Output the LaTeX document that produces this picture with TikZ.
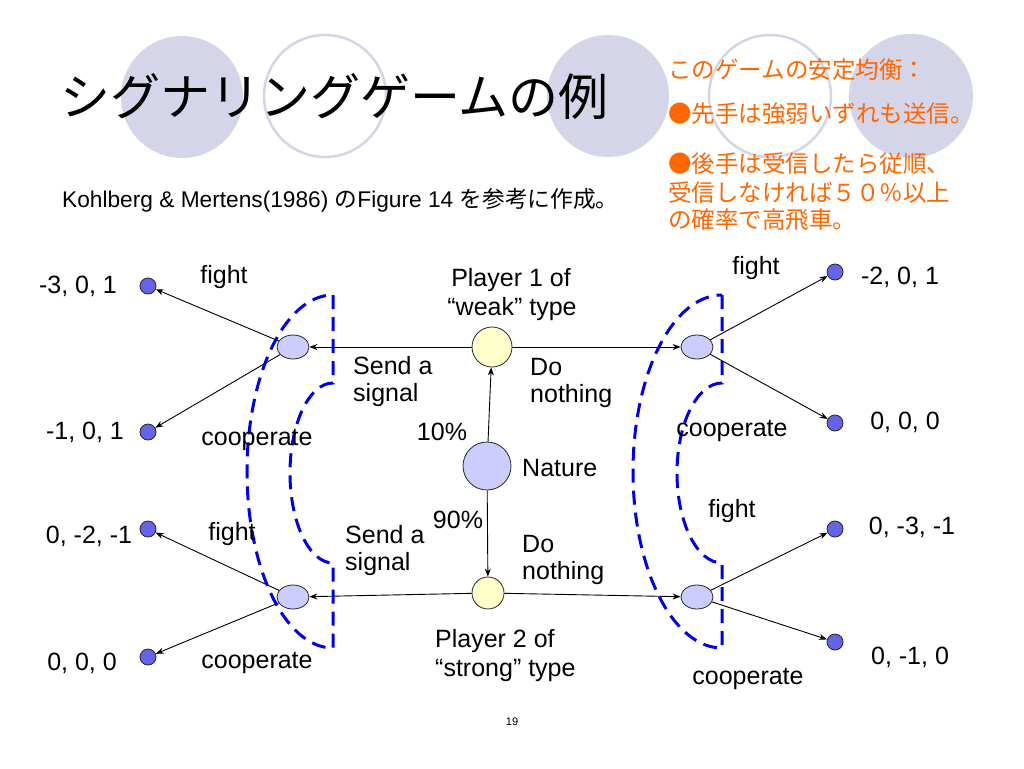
\documentclass[tikz,border=0pt]{standalone}
\usepackage{fontspec}
\setmainfont{Liberation Sans}
\newfontfamily\cjk{Noto Sans CJK JP}
\usetikzlibrary{shapes.geometric,arrows.meta}
\definecolor{bgc}{RGB}{213,213,234}
\definecolor{lav}{RGB}{204,204,255}
\definecolor{yel}{RGB}{255,255,204}
\definecolor{termc}{RGB}{100,100,232}
\definecolor{setblue}{RGB}{0,0,230}
\definecolor{orng}{RGB}{255,102,0}
\begin{document}
\begin{tikzpicture}[x=1pt,y=1pt,
  lbl/.style={font=\fontsize{25}{29}\selectfont, inner sep=0},
  otext/.style={font=\cjk\fontsize{23.5}{28}\selectfont, text=orng, inner sep=0, anchor=west},
  term/.style={circle, fill=termc, draw=black!85, line width=0.8pt, minimum size=16pt, inner sep=0},
  info/.style={ellipse, fill=lav, draw=black!85, line width=0.8pt, minimum width=32pt, minimum height=24pt, inner sep=0},
  pl/.style={circle, fill=yel, draw=black!85, line width=0.8pt, inner sep=0},
  arr/.style={-{Stealth[length=8pt,width=6pt]}, line width=0.9pt},
  iset/.style={draw=setblue, line width=3pt, dash pattern=on 14pt off 8pt}]
\useasboundingbox[fill=white] (0,0) rectangle (1024,-768);

% background circles
\fill[bgc] (182,-97) circle[radius=61];
\draw[bgc, line width=2.5pt] (325,-96) circle[radius=61];
\fill[bgc] (608,-96) circle[radius=61];
\draw[bgc, line width=2.5pt] (770,-96) circle[radius=61];
\fill[bgc] (911,-96) circle[radius=62];

% title and notes
\node[font=\cjk\fontsize{50}{60}\selectfont, anchor=west, inner sep=0] (title) at (60,-97) {シグナリングゲームの例};
\node[font=\fontsize{22.7}{26}\selectfont, anchor=west, inner sep=0] (sub) at (62,-200) {Kohlberg \& Mertens(1986) {\cjk の}Figure 14 {\cjk を参考に作成。}};
\node[otext] (o1) at (668,-70) {このゲームの安定均衡：};
\node[otext] (o2) at (668,-114) {●先手は強弱いずれも送信。};
\node[otext] (o3) at (668,-164) {●後手は受信したら従順、};
\node[otext] (o4) at (668,-193) {受信しなければ５０％以上};
\node[otext] (o5) at (668,-220) {の確率で高飛車。};

% game nodes
\node[circle, fill=lav, draw=black!85, line width=0.8pt, minimum size=48pt, inner sep=0] (nature) at (487,-466) {};
\node[pl, minimum size=40pt] (p1) at (492,-347) {};
\node[pl, minimum size=32pt] (p2) at (488,-593) {};
\node[info] (lt) at (293,-347) {};
\node[info] (lb) at (293,-597) {};
\node[info] (rt) at (697,-347) {};
\node[info] (rb) at (697,-597) {};
\node[term] (tl1) at (148,-286) {};
\node[term] (tl2) at (148,-432) {};
\node[term] (tl3) at (148,-529) {};
\node[term] (tl4) at (148,-657) {};
\node[term] (tr1) at (835,-272) {};
\node[term] (tr2) at (835,-423) {};
\node[term] (tr3) at (835,-529) {};
\node[term] (tr4) at (835,-642) {};

% connectors
\draw[arr] (nature) -- (p1);
\draw[arr] (nature) -- (p2);
\draw[arr] (p1) -- (lt);
\draw[arr] (p1) -- (rt);
\draw[arr] (p2) -- (lb);
\draw[arr] (p2) -- (rb);
\draw[arr] (lt) -- (tl1);
\draw[arr] (lt) -- (tl2);
\draw[arr] (lb) -- (tl3);
\draw[arr] (lb) -- (tl4);
\draw[arr] (rt) -- (tr1);
\draw[arr] (rt) -- (tr2);
\draw[arr] (rb) -- (tr3);
\draw[arr] (rb) -- (tr4);

% information sets
\foreach \cx/\ri/\ro in {333/43/86, 722/45/89}{
  \draw[iset] (\cx,-295) -- (\cx,-383) arc[start angle=90, end angle=270, x radius=\ri, y radius=90]
    -- (\cx,-648) arc[start angle=270, end angle=90, x radius=\ro, y radius=176.5] -- cycle;
}

% labels
\node[lbl] (pay1) at (78,-286) {-3, 0, 1};
\node[lbl] (pay2) at (85,-432) {-1, 0, 1};
\node[lbl] (pay3) at (89,-536) {0, -2, -1};
\node[lbl] (pay4) at (82,-663) {0, 0, 0};
\node[lbl] (pay5) at (900,-277) {-2, 0, 1};
\node[lbl] (pay6) at (905,-422) {0, 0, 0};
\node[lbl] (pay7) at (912,-527) {0, -3, -1};
\node[lbl] (pay8) at (910,-657) {0, -1, 0};

\node[lbl] (a1) at (224,-277) {fight};
\node[lbl] (a2) at (257,-440) {cooperate};
\node[lbl] (a3) at (232,-534) {fight};
\node[lbl] (a4) at (257,-663) {cooperate};
\node[lbl] (a5) at (756,-268) {fight};
\node[lbl] (a6) at (732,-431) {cooperate};
\node[lbl] (a7) at (732,-511) {fight};
\node[lbl] (a8) at (748,-679) {cooperate};

\node[lbl, anchor=west] (s1) at (353,-366) {Send a};
\node[lbl, anchor=west] (s2) at (353,-395) {signal};
\node[lbl, anchor=west] (s3) at (345,-535) {Send a};
\node[lbl, anchor=west] (s4) at (345,-564) {signal};
\node[lbl, anchor=west] (d1) at (530,-367) {Do};
\node[lbl, anchor=west] (d2) at (530,-396) {nothing};
\node[lbl, anchor=west] (d3) at (522,-544) {Do};
\node[lbl, anchor=west] (d4) at (522,-573) {nothing};

\node[lbl] (pct1) at (442,-432) {10\%};
\node[lbl] (pct2) at (458,-520) {90\%};
\node[lbl, anchor=west] (nat) at (522,-468) {Nature};
\node[lbl] (pl1a) at (511,-280) {Player 1 of};
\node[lbl] (pl1b) at (512,-309) {“weak” type};
\node[lbl, anchor=west] (pl2a) at (435,-641) {Player 2 of};
\node[lbl, anchor=west] (pl2b) at (435,-670) {“strong” type};

\node[font=\fontsize{11}{13}\selectfont, inner sep=0] (pg) at (512,-722) {19};
\end{tikzpicture}
\end{document}
